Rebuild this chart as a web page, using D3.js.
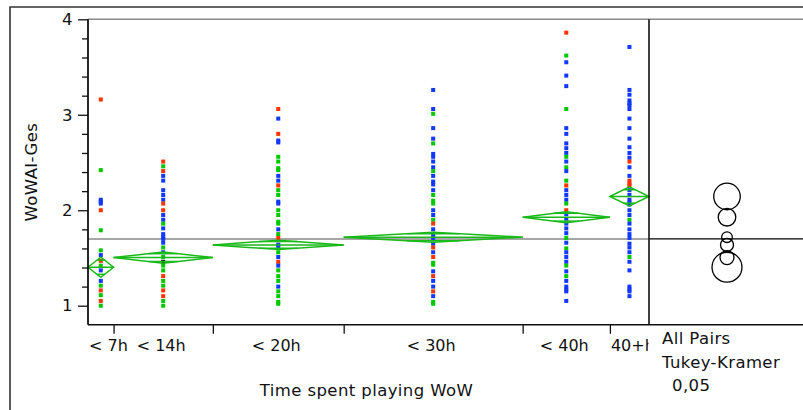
<!DOCTYPE html>
<html>
<head>
<meta charset="utf-8">
<script src="https://cdn.jsdelivr.net/npm/d3@7"></script>
<style>
  html, body { margin: 0; padding: 0; background: #fff; }
  svg { display: block; }
  text { font-family: "DejaVu Sans", Verdana, sans-serif; font-size: 16.5px; letter-spacing: 0.4px; fill: #111; }
  text.cat { font-size: 16px; letter-spacing: 0; }
</style>
</head>
<body>
<svg id="chart" width="803" height="410"></svg>
<script>
// ---------------- DATA ----------------
const categories = ["< 7h", "< 14h", "< 20h", "< 30h", "< 40h", "40+h"];
const groupN     = [17, 66, 87, 119, 58, 26];           // group sizes (drive category widths)
const groupMeans = [1.403, 1.504, 1.637, 1.718, 1.927, 2.144];
const ciHalf     = [0.105, 0.058, 0.049, 0.052, 0.058, 0.100];   // 95% CI half-width (means diamonds)
const circleRad  = [0.157, 0.073, 0.068, 0.056, 0.092, 0.139];   // Tukey-Kramer comparison circle radii
const grandMean  = 1.70;
const yTicks     = [1, 2, 3, 4];
const yMinor     = [1.2, 1.4, 1.6, 1.8, 2.2, 2.4, 2.6, 2.8, 3.2, 3.4, 3.6, 3.8];
const yTitle     = "WoWAI-Ges";
const xTitle     = "Time spent playing WoW";
const compLines  = ["All Pairs", "Tukey-Kramer", "0,05"];

// points: [value, colour code]  r = red, g = green, b = blue, k = black
const pts7h = [[3.16,'r'],[2.42,'g'],[2.11,'b'],[2.09,'b'],[2.07,'b'],[2.00,'r'],[1.79,'g'],[1.58,'g'],[1.53,'b'],[1.47,'r'],[1.42,'g'],[1.37,'b'],[1.26,'b'],[1.21,'g'],[1.16,'r'],[1.11,'g'],[1.05,'r'],[1.00,'g']];
const pts14h = [[2.51,'r'],[2.46,'g'],[2.41,'r'],[2.36,'b'],[2.31,'b'],[2.21,'b'],[2.16,'b'],[2.11,'b'],[2.07,'r'],[2.00,'r'],[1.95,'b'],[1.90,'b'],[1.86,'g'],[1.81,'b'],[1.75,'b'],[1.72,'b'],[1.70,'b'],[1.66,'b'],[1.61,'g'],[1.56,'b'],[1.51,'g'],[1.46,'k'],[1.42,'g'],[1.37,'g'],[1.31,'r'],[1.26,'g'],[1.21,'g'],[1.16,'r'],[1.10,'r'],[1.05,'g'],[1.00,'g']];
const pts20h = [[3.06,'r'],[2.96,'b'],[2.80,'r'],[2.73,'b'],[2.71,'b'],[2.56,'g'],[2.51,'g'],[2.44,'g'],[2.42,'g'],[2.36,'b'],[2.31,'b'],[2.26,'r'],[2.21,'g'],[2.16,'g'],[2.09,'b'],[2.07,'b'],[2.00,'g'],[1.95,'g'],[1.88,'g'],[1.86,'g'],[1.80,'b'],[1.75,'g'],[1.71,'r'],[1.64,'b'],[1.62,'b'],[1.56,'g'],[1.51,'b'],[1.46,'r'],[1.42,'b'],[1.37,'g'],[1.31,'g'],[1.26,'g'],[1.20,'b'],[1.15,'g'],[1.10,'g'],[1.04,'g'],[1.02,'g']];
const pts30h = [[3.26,'b'],[3.06,'b'],[3.01,'g'],[2.86,'b'],[2.75,'b'],[2.70,'g'],[2.59,'b'],[2.56,'b'],[2.51,'b'],[2.45,'b'],[2.41,'g'],[2.36,'b'],[2.30,'b'],[2.27,'b'],[2.21,'b'],[2.16,'g'],[2.10,'g'],[2.07,'g'],[2.00,'b'],[1.95,'b'],[1.90,'g'],[1.86,'r'],[1.80,'b'],[1.73,'b'],[1.71,'b'],[1.65,'b'],[1.61,'r'],[1.56,'b'],[1.51,'r'],[1.45,'g'],[1.43,'g'],[1.36,'b'],[1.31,'r'],[1.26,'b'],[1.20,'b'],[1.15,'r'],[1.10,'b'],[1.04,'g'],[1.02,'g']];
const pts40h = [[3.86,'r'],[3.62,'g'],[3.55,'b'],[3.41,'b'],[3.30,'b'],[3.06,'g'],[2.86,'b'],[2.80,'b'],[2.70,'b'],[2.65,'b'],[2.60,'b'],[2.56,'g'],[2.51,'b'],[2.45,'g'],[2.41,'b'],[2.31,'g'],[2.26,'r'],[2.21,'b'],[2.16,'b'],[2.11,'b'],[2.07,'g'],[2.00,'r'],[1.96,'b'],[1.91,'b'],[1.86,'b'],[1.81,'b'],[1.76,'b'],[1.71,'g'],[1.66,'b'],[1.60,'g'],[1.56,'b'],[1.51,'b'],[1.46,'b'],[1.42,'g'],[1.36,'b'],[1.31,'g'],[1.26,'b'],[1.20,'b'],[1.17,'b'],[1.15,'b'],[1.05,'b']];
const pts40p = [[3.71,'b'],[3.26,'b'],[3.21,'b'],[3.15,'b'],[3.12,'b'],[3.10,'b'],[3.06,'b'],[2.96,'b'],[2.86,'b'],[2.75,'b'],[2.66,'b'],[2.60,'b'],[2.55,'b'],[2.51,'r'],[2.45,'b'],[2.36,'b'],[2.31,'r'],[2.28,'r'],[2.26,'r'],[2.21,'b'],[2.16,'b'],[2.11,'b'],[2.08,'b'],[2.06,'b'],[2.00,'b'],[1.95,'b'],[1.90,'g'],[1.86,'b'],[1.80,'b'],[1.75,'b'],[1.71,'b'],[1.65,'b'],[1.61,'b'],[1.56,'b'],[1.51,'g'],[1.46,'b'],[1.37,'b'],[1.20,'b'],[1.17,'b'],[1.15,'b'],[1.10,'b']];
const groupPoints = [pts7h, pts14h, pts20h, pts30h, pts40h, pts40p];

const colorMap = { r: "#ff3300", g: "#00c800", b: "#1238ff", k: "#000000" };

// ---------------- LAYOUT ----------------
const svg = d3.select("#chart");
const P = { left: 88, right: 649, top: 19.3, bottom: 324.8 };
const panelRight = 806;
const circleX = 727;

const y = d3.scaleLinear().domain([0.8, 4.0]).range([P.bottom, P.top]);
const cum = d3.cumsum(groupN);
const starts = groupN.map((n, i) => cum[i] - n);
const x = d3.scaleLinear().domain([0, d3.sum(groupN)]).range([P.left, P.right]);

// outer frame
svg.append("path").attr("d", `M10,412 L10,7 L805,7`)
  .attr("fill", "none").attr("stroke", "#333").attr("stroke-width", 1.6);

// grand mean line
svg.append("line").attr("x1", P.left).attr("x2", P.right)
  .attr("y1", y(grandMean)).attr("y2", y(grandMean))
  .attr("stroke", "#a6a6a6").attr("stroke-width", 2);
svg.append("line").attr("x1", P.right).attr("x2", panelRight)
  .attr("y1", y(grandMean)).attr("y2", y(grandMean))
  .attr("stroke", "#000").attr("stroke-width", 1.2);

// points
const gPts = svg.append("g");
groupPoints.forEach((pts, i) => {
  const cx = x(starts[i] + groupN[i] / 2);
  gPts.selectAll(null).data(pts).enter().append("rect")
    .attr("x", cx - 2).attr("y", d => y(d[0]) - 2)
    .attr("width", 4).attr("height", 4)
    .attr("fill", d => colorMap[d[1]]);
});

// means diamonds
const gDia = svg.append("g").attr("fill", "none").attr("stroke", "#19b919").attr("stroke-width", 1.5);
groupMeans.forEach((m, i) => {
  const xl = x(starts[i]), xr = x(cum[i]), xc = (xl + xr) / 2, hw = (xr - xl) / 2;
  const ym = y(m), yt = y(m + ciHalf[i]), yb = y(m - ciHalf[i]);
  gDia.append("path").attr("d", `M${xl},${ym} L${xc},${yt} L${xr},${ym} L${xc},${yb} Z`);
  gDia.append("line").attr("x1", xl).attr("x2", xr).attr("y1", ym).attr("y2", ym);
  const f = 1 - Math.SQRT1_2;
  [m + ciHalf[i] * Math.SQRT1_2, m - ciHalf[i] * Math.SQRT1_2].forEach(v => {
    gDia.append("line").attr("x1", xc - hw * f).attr("x2", xc + hw * f)
      .attr("y1", y(v)).attr("y2", y(v));
  });
});

// frame of plot + comparison panel
svg.append("line").attr("x1", P.left).attr("x2", panelRight).attr("y1", P.top).attr("y2", P.top)
  .attr("stroke", "#8a8a8a").attr("stroke-width", 1.6);
svg.append("line").attr("x1", P.left).attr("x2", panelRight).attr("y1", P.bottom).attr("y2", P.bottom)
  .attr("stroke", "#111").attr("stroke-width", 1.6);
svg.append("line").attr("x1", P.left).attr("x2", P.left).attr("y1", P.top).attr("y2", P.bottom)
  .attr("stroke", "#111").attr("stroke-width", 1.8);
svg.append("line").attr("x1", P.right).attr("x2", P.right).attr("y1", P.top).attr("y2", P.bottom)
  .attr("stroke", "#111").attr("stroke-width", 1.6);

// y axis
const yAx = svg.append("g").attr("transform", `translate(${P.left},0)`)
  .call(d3.axisLeft(y).tickValues(yTicks).tickSize(10).tickPadding(5).tickFormat(d3.format("d")));
yAx.select(".domain").remove();
yAx.selectAll("line").attr("stroke", "#111").attr("stroke-width", 1.3);
yAx.selectAll("text").attr("font-size", null).attr("font-family", null).style("font-size", "16.5px");
const yMin = svg.append("g").attr("transform", `translate(${P.left},0)`)
  .call(d3.axisLeft(y).tickValues(yMinor).tickSize(6).tickFormat(""));
yMin.select(".domain").remove();
yMin.selectAll("line").attr("stroke", "#111").attr("stroke-width", 1.3);

// x axis (ticks at group boundaries)
const xAx = svg.append("g").attr("transform", `translate(0,${P.bottom})`)
  .call(d3.axisBottom(x).tickValues(cum.slice(0, -1)).tickSize(9).tickFormat(""));
xAx.select(".domain").remove();
xAx.selectAll("line").attr("stroke", "#111").attr("stroke-width", 1.3);

// category labels
svg.append("clipPath").attr("id", "xclip").append("rect")
  .attr("x", 0).attr("y", P.bottom).attr("width", P.right - 0.5).attr("height", 60);
const gLab = svg.append("g").attr("clip-path", "url(#xclip)");
categories.forEach((c, i) => {
  const xl = x(starts[i]), xr = x(cum[i]);
  const t = gLab.append("text").attr("class", "cat").attr("y", 351).text(c);
  const w = t.node().getComputedTextLength();
  if (w > xr - xl) t.attr("x", xl + 1).attr("text-anchor", "start");
  else t.attr("x", (xl + xr) / 2 - 2).attr("text-anchor", "middle");
});

// titles
svg.append("text").attr("x", (P.left + P.right) / 2 - 2).attr("y", 396)
  .attr("text-anchor", "middle").text(xTitle);
svg.append("text").attr("transform", `translate(37,${(P.top + P.bottom) / 2}) rotate(-90)`)
  .attr("text-anchor", "middle").text(yTitle);

// comparison circles
const gCirc = svg.append("g").attr("fill", "none").attr("stroke", "#000").attr("stroke-width", 1.3);
groupMeans.forEach((m, i) => {
  gCirc.append("circle").attr("cx", circleX).attr("cy", y(m))
    .attr("r", y(m) - y(m + circleRad[i]));
});

// comparison legend text
svg.append("text").attr("x", 662).attr("y", 344).text(compLines[0]);
svg.append("text").attr("x", 662).attr("y", 367.5).text(compLines[1]);
svg.append("text").attr("x", 672).attr("y", 391).text(compLines[2]);
</script>
</body>
</html>
